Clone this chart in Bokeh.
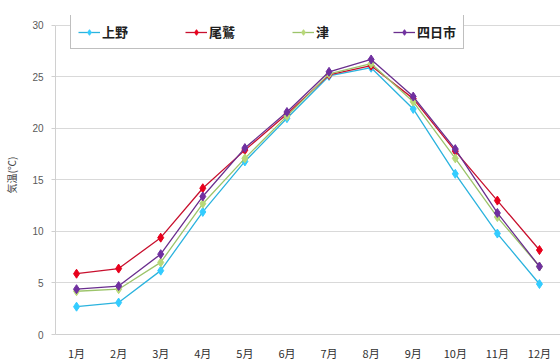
from bokeh.plotting import figure
from bokeh.models import FactorRange, Legend, LegendItem, FixedTicker, Range1d
from bokeh.embed import file_html
from bokeh.resources import INLINE

months = ["1月", "2月", "3月", "4月", "5月", "6月", "7月", "8月", "9月", "10月", "11月", "12月"]

ueno = [2.7, 3.1, 6.2, 11.9, 16.8, 21.0, 25.1, 25.9, 21.9, 15.6, 9.8, 4.9]
owase = [5.9, 6.4, 9.4, 14.2, 17.9, 21.4, 25.2, 26.1, 22.9, 17.8, 13.0, 8.2]
tsu = [4.2, 4.4, 7.0, 12.7, 17.1, 21.2, 25.3, 26.3, 22.6, 17.1, 11.4, 6.6]
yokkaichi = [4.4, 4.7, 7.8, 13.4, 18.1, 21.6, 25.5, 26.7, 23.1, 18.0, 11.8, 6.6]

y_ticks = [0, 5, 10, 15, 20, 25, 30]

series = [
    ("上野", ueno, "#2BB3DE", "#33CCFF"),
    ("尾鷲", owase, "#C8102E", "#E8001C"),
    ("津", tsu, "#9CC46A", "#B8D878"),
    ("四日市", yokkaichi, "#6A2E8E", "#7030A0"),
]

# a little headroom above 30 so the legend fits inside the frame
p = figure(
    width=560, height=363,
    x_range=FactorRange(*months, range_padding=0),
    y_range=Range1d(0, 30.97),
    output_backend="svg", toolbar_location=None,
    min_border_left=55, min_border_right=0, min_border_top=15, min_border_bottom=29,
)
p.background_fill_color = "white"
p.border_fill_color = "white"
p.outline_line_color = None

p.yaxis.ticker = FixedTicker(ticks=y_ticks)
p.yaxis.bounds = (0, 30)
p.ygrid.grid_line_color = "#D9D9D9"
p.ygrid.grid_line_width = 1
p.xgrid.grid_line_color = None

p.yaxis.axis_line_color = "#D0D0D0"
p.yaxis.major_tick_line_color = "#D0D0D0"
p.yaxis.major_tick_out = 4
p.yaxis.major_tick_in = 0
p.yaxis.minor_tick_line_color = None
p.yaxis.major_label_text_font = "Liberation Sans"
p.yaxis.major_label_text_font_size = "10px"
p.yaxis.major_label_text_color = "#595959"
p.yaxis.major_label_standoff = 8
p.yaxis.axis_label = "気温(℃)"
p.yaxis.axis_label_text_font = "Noto Sans CJK JP"
p.yaxis.axis_label_text_font_size = "10px"
p.yaxis.axis_label_text_font_style = "normal"
p.yaxis.axis_label_text_color = "#404040"
p.yaxis.axis_label_standoff = 10

p.xaxis.axis_line_color = "#D0D0D0"
p.xaxis.major_tick_line_color = None
p.xaxis.major_tick_out = 0
p.xaxis.major_tick_in = 0
p.xaxis.minor_tick_line_color = None
p.xaxis.minor_tick_out = 0
p.xaxis.major_label_text_font = "Noto Sans CJK JP"
p.xaxis.major_label_text_font_size = "11px"
p.xaxis.major_label_text_color = "#303030"
p.xaxis.major_label_standoff = 10

items = []
for name, vals, line_col, mark_col in series:
    ln = p.line(months, vals, line_color=line_col, line_width=1.3)
    mk = p.scatter(months, vals, marker="diamond", size=9,
                   fill_color=mark_col, line_color=mark_col)
    items.append(LegendItem(label=name, renderers=[ln, mk]))

legend = Legend(
    items=items, orientation="horizontal",
    location=(15, 285),
    label_text_font="Noto Sans CJK JP", label_text_font_size="13px",
    label_text_font_style="bold", label_text_color="#202020",
    border_line_color="#808080", border_line_width=1,
    background_fill_color="white", background_fill_alpha=1,
    spacing=57, padding=7, margin=0,
    glyph_width=22, glyph_height=14, label_height=17, label_standoff=2,
)
p.add_layout(legend, "center")

open("out.html", "w").write(file_html(p, INLINE))
